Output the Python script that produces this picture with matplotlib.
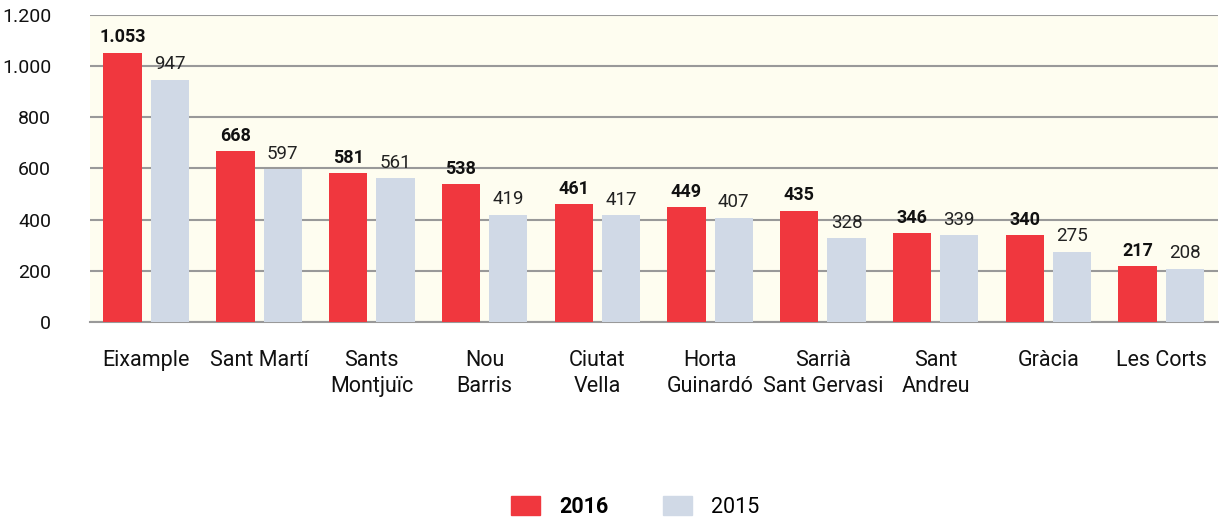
import matplotlib.pyplot as plt
from matplotlib.patches import Patch

plt.rcParams['font.family'] = ['Roboto', 'DejaVu Sans']

districts = ['Eixample', 'Sant Martí', 'Sants\nMontjuïc', 'Nou\nBarris', 'Ciutat\nVella',
             'Horta\nGuinardó', 'Sarrià\nSant Gervasi', 'Sant\nAndreu', 'Gràcia', 'Les Corts']
y2016 = [1053, 668, 581, 538, 461, 449, 435, 346, 340, 217]
y2015 = [947, 597, 561, 419, 417, 407, 328, 339, 275, 208]
yticks = [0, 200, 400, 600, 800, 1000, 1200]

red = '#F0373E'
blue = '#D0D9E6'


def fmt(v):
    return f'{v:,}'.replace(',', '.')


fig = plt.figure(figsize=(12.19, 5.19), dpi=100)
ax = fig.add_axes([0.0738, 0.3796, 0.925, 0.5915])
ax.set_facecolor('#FEFDF0')

x = list(range(len(districts)))
off = 0.21
w = 0.34
ax.bar([i - off for i in x], y2016, w, color=red, zorder=3)
ax.bar([i + off for i in x], y2015, w, color=blue, zorder=3)

for i in x:
    ax.text(i - off, y2016[i] + 25, fmt(y2016[i]), ha='center', va='bottom',
            fontsize=13, fontweight='bold', color='#111111')
    ax.text(i + off, y2015[i] + 25, fmt(y2015[i]), ha='center', va='bottom',
            fontsize=13.5, color='#222222')

ax.set_xlim(-0.5, len(districts) - 0.5)
ax.set_ylim(0, 1200)
ax.set_yticks(yticks)
ax.set_yticklabels([fmt(v) for v in yticks], fontsize=14, color='#111111')
ax.set_xticks(x)
ax.set_xticklabels(districts, fontsize=15.5, color='#111111', linespacing=1.35, va='top')
ax.tick_params(axis='both', length=0)
ax.tick_params(axis='x', pad=20)
ax.tick_params(axis='y', pad=28)
ax.yaxis.grid(True, color='#999999', linewidth=1.5, zorder=0)
for s in ['top', 'right', 'left']:
    ax.spines[s].set_visible(False)
ax.spines['bottom'].set_color('#999999')
ax.spines['bottom'].set_linewidth(1.5)

handles = [Patch(color=red, label='2016'), Patch(color=blue, label='2015')]
leg = fig.legend(handles=handles, loc='lower center', bbox_to_anchor=(0.521, -0.035), ncol=2,
                 frameon=False, fontsize=15.5, handlelength=1.35, handleheight=0.95,
                 columnspacing=2.5, handletextpad=0.9)
leg.get_texts()[0].set_fontweight('bold')

fig.savefig('out.png', dpi=100)
